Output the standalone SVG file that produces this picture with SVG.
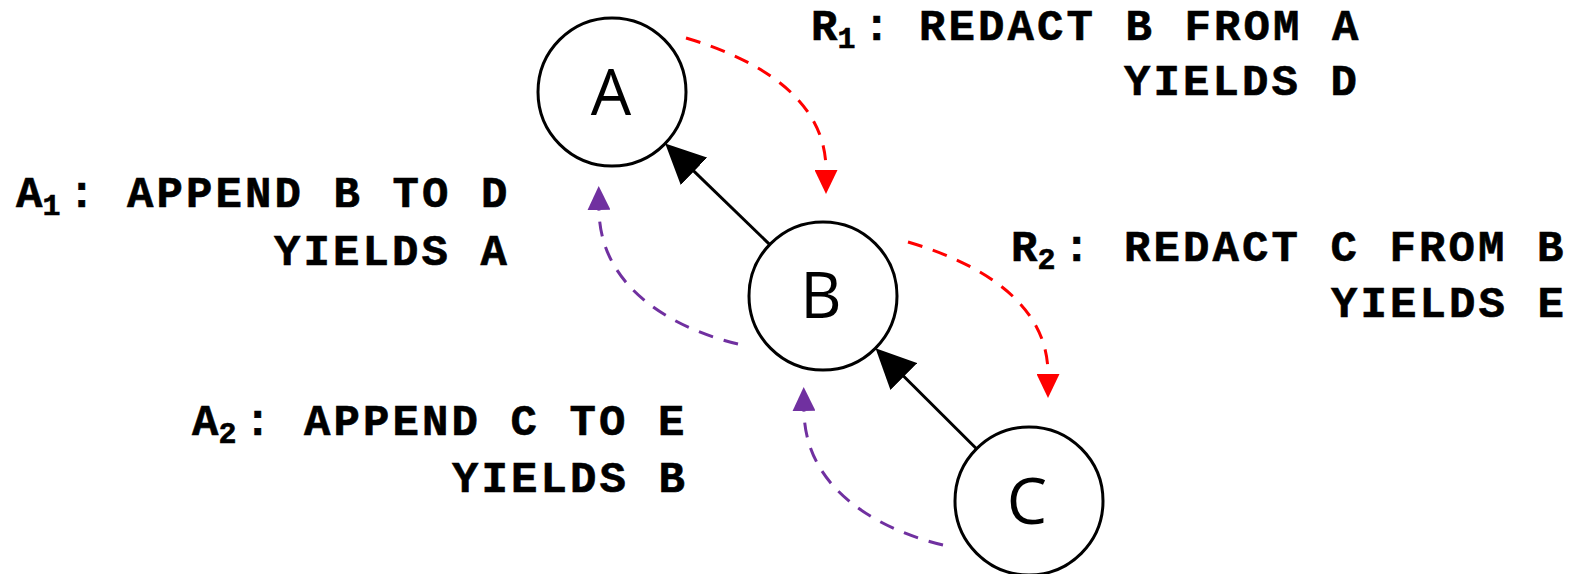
<svg xmlns="http://www.w3.org/2000/svg" width="1570" height="574" viewBox="0 0 1570 574">
<style>
.node circle{fill:#fff;stroke:#000;stroke-width:3}
.node text{font-family:"Open Sans","Noto Sans",sans-serif;font-size:64px;text-anchor:middle;fill:#000}
.lbl{font-family:"Liberation Mono",monospace;font-weight:bold;font-size:44px;fill:#000;stroke:#000;stroke-width:0.6px}
.sp{letter-spacing:3.1px}
.sub{font-size:30px}
.edge{stroke:#000;stroke-width:3;fill:none}
.red{stroke:#FF0000;stroke-width:3;fill:none;stroke-dasharray:15 11}
.pur{stroke:#7030A0;stroke-width:3;fill:none;stroke-dasharray:15 11}
</style>
<defs>
<marker id="ahB" markerUnits="userSpaceOnUse" viewBox="0 0 40 38" markerWidth="40" markerHeight="38" refX="30" refY="19" orient="auto"><path d="M0,0 L40,19 L0,38 z" fill="#000"/></marker>
<marker id="ahR" markerUnits="userSpaceOnUse" viewBox="0 0 24 23" markerWidth="24" markerHeight="23" refX="0" refY="11.5" orient="auto"><path d="M0,0 L24,11.5 L0,23 z" fill="#FF0000"/></marker>
<marker id="ahP" markerUnits="userSpaceOnUse" viewBox="0 0 24 23" markerWidth="24" markerHeight="23" refX="0" refY="11.5" orient="auto"><path d="M0,0 L24,11.5 L0,23 z" fill="#7030A0"/></marker>
</defs>
<g id="connectors">
<path class="edge" d="M769.8,244.6 L672.4,150.4" marker-end="url(#ahB)"/>
<path class="edge" d="M976.5,448.8 L882.6,355.3" marker-end="url(#ahB)"/>
<path class="red" d="M686,38 C760,60 826,100 826,170" marker-end="url(#ahR)"/>
<path class="red" d="M908,242 C982,264 1048,304 1048,374" marker-end="url(#ahR)"/>
<path class="pur" d="M943,545 C880,530 805,490 804,411" marker-end="url(#ahP)"/>
<path class="pur" d="M738,344 C675,329 600,289 599,210" marker-end="url(#ahP)"/>
</g>
<g id="node-A" class="node"><circle cx="612" cy="92" r="74"/><text x="611" y="115">A</text></g>
<g id="node-B" class="node"><circle cx="823" cy="296" r="74"/><text x="821" y="318">B</text></g>
<g id="node-C" class="node"><circle cx="1029" cy="501" r="74"/><text x="1027" y="524">C</text></g>
<g id="label-R1">
<text class="lbl" x="811" y="40">R<tspan class="sub" dy="8">1</tspan><tspan dy="-8" dx="8">:</tspan></text>
<text class="lbl sp" x="919" y="40">REDACT B FROM A</text>
<text class="lbl sp" x="1124" y="95">YIELDS D</text>
</g>
<g id="label-A1">
<text class="lbl" x="16" y="207">A<tspan class="sub" dy="8">1</tspan><tspan dy="-8" dx="8">:</tspan></text>
<text class="lbl sp" x="127" y="207">APPEND B TO D</text>
<text class="lbl sp" x="274" y="265">YIELDS A</text>
</g>
<g id="label-R2">
<text class="lbl" x="1011" y="261">R<tspan class="sub" dy="8">2</tspan><tspan dy="-8" dx="8">:</tspan></text>
<text class="lbl sp" x="1124" y="261">REDACT C FROM B</text>
<text class="lbl sp" x="1331" y="317">YIELDS E</text>
</g>
<g id="label-A2">
<text class="lbl" x="192" y="435">A<tspan class="sub" dy="8">2</tspan><tspan dy="-8" dx="8">:</tspan></text>
<text class="lbl sp" x="304" y="435">APPEND C TO E</text>
<text class="lbl sp" x="452" y="492">YIELDS B</text>
</g>
</svg>
